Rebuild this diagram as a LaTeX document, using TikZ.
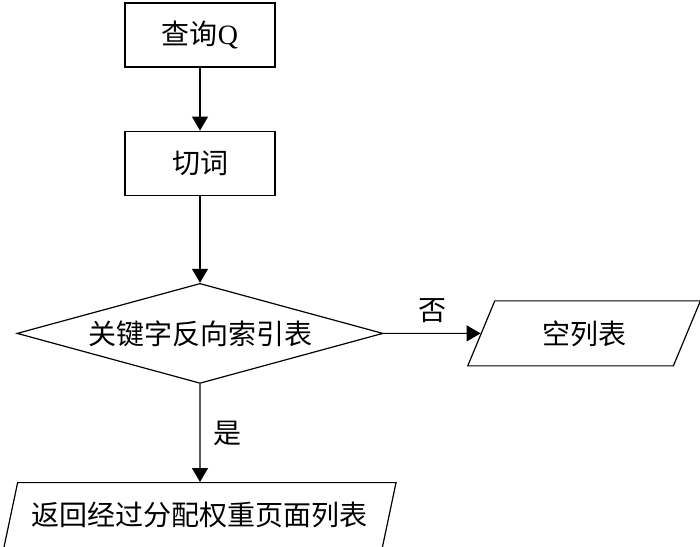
\documentclass[tikz,border=0pt]{standalone}
\usepackage{fontspec}
\setmainfont{Liberation Serif}
\newfontfamily\cjk{Noto Sans CJK SC}
\usetikzlibrary{shapes.geometric,positioning,arrows.meta}

\begin{document}
\begin{tikzpicture}[x=1pt,y=1pt]
	\tikzset{every node/.style={font=\fontsize{28}{33}\selectfont}}
	\tikzset{procbox/.style={draw,line width=1.2pt,minimum width=150pt,minimum height=64pt,inner sep=0pt}}
	\tikzset{decision/.style={draw,diamond,aspect=3.66,line width=1.2pt,minimum width=366pt,minimum height=100pt,inner sep=0pt}}
	\tikzset{iobox/.style={draw,trapezium,trapezium left angle=64,trapezium right angle=116,trapezium stretches=true,line width=1.2pt,minimum height=65pt,inner sep=0pt}}
	\tikzset{flow/.style={line width=1.2pt,-{Triangle[length=14pt,width=16pt]}}}
	\useasboundingbox (0,0) rectangle (700,546);
	\node[procbox] (query) at (200,511) {{\cjk 查询}Q};
	\node[procbox,below=63pt of query] (cut) {\cjk 切词};
	\node[decision,below=87pt of cut] (lookup) {\cjk 关键字反向索引表};
	\node[iobox,minimum width=233pt,right=97pt of lookup] (empty) {\cjk 空列表};
	\node[iobox,minimum width=393pt,below=98pt of lookup] (result) {\cjk 返回经过分配权重页面列表};
	\draw[flow] (query) -- (cut);
	\draw[flow] (cut) -- (lookup);
	\draw[flow] (lookup) -- node[above=7pt] {\cjk 否} (empty);
	\draw[flow] (lookup) -- node[right=10pt] {\cjk 是} (result);
\end{tikzpicture}
\end{document}
